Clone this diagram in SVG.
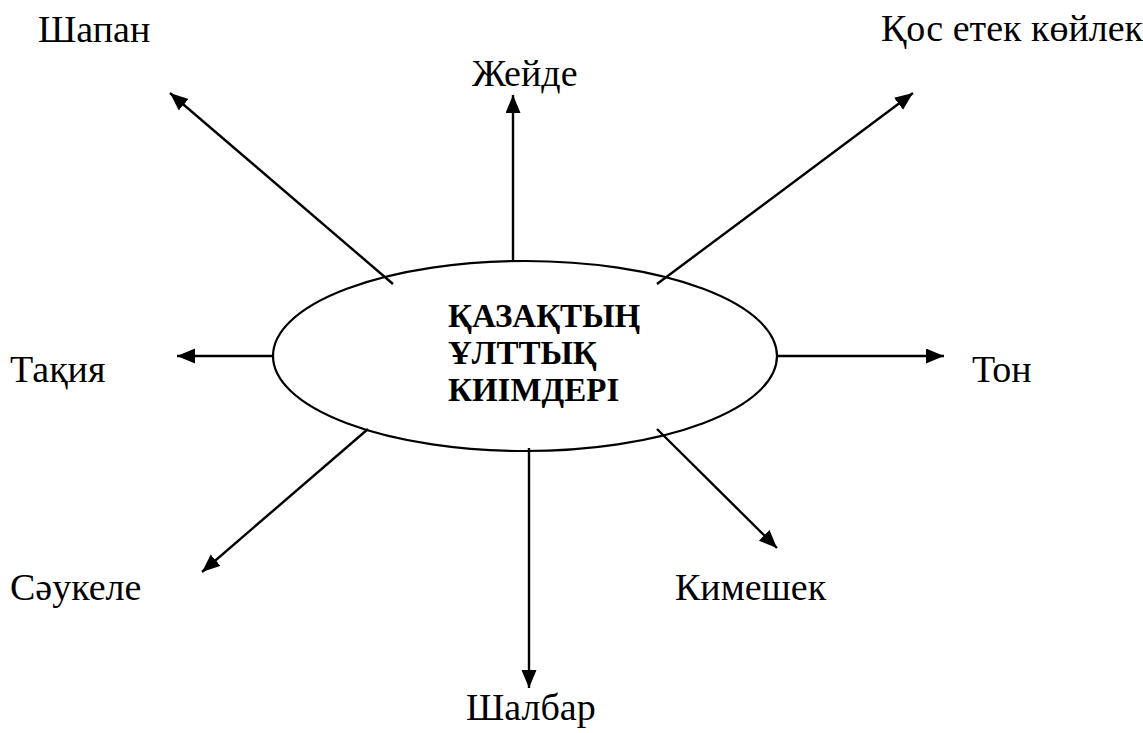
<svg xmlns="http://www.w3.org/2000/svg" width="1143" height="733" viewBox="0 0 1143 733">
<style>
.lbl{font-size:38px;fill:#000}
.ttl{font-size:33px;font-weight:bold;fill:#000}
.ln{stroke:#000;stroke-width:2.4;fill:none}
</style>
<defs>
<marker id="ah" markerUnits="userSpaceOnUse" markerWidth="20" markerHeight="16" refX="18" refY="7.5" orient="auto" viewBox="0 0 20 16">
<path d="M0,0 L18,7.5 L0,15 z" fill="#000"/>
</marker>
</defs>
<rect width="1143" height="733" fill="#fff"/>
<g id="connectors">
<line class="ln" x1="393" y1="284" x2="170" y2="93" marker-end="url(#ah)"/>
<line class="ln" x1="513" y1="261" x2="513" y2="95" marker-end="url(#ah)"/>
<line class="ln" x1="657" y1="284" x2="913" y2="93" marker-end="url(#ah)"/>
<line class="ln" x1="273" y1="356" x2="177" y2="356" marker-end="url(#ah)"/>
<line class="ln" x1="777" y1="356" x2="944" y2="356" marker-end="url(#ah)"/>
<line class="ln" x1="368" y1="429" x2="202" y2="572" marker-end="url(#ah)"/>
<line class="ln" x1="529" y1="448" x2="529" y2="688" marker-end="url(#ah)"/>
<line class="ln" x1="657" y1="429" x2="777" y2="548" marker-end="url(#ah)"/>
</g>
<g font-family="Liberation Serif">
<g id="center">
<ellipse cx="525" cy="356" rx="252" ry="95" fill="none" stroke="#000" stroke-width="2.2"/>
<text class="ttl" font-family="Liberation Serif" x="448" y="327">ҚАЗАҚТЫҢ</text>
<text class="ttl" font-family="Liberation Serif" x="448" y="364">ҰЛТТЫҚ</text>
<text class="ttl" font-family="Liberation Serif" x="448" y="401">КИІМДЕРІ</text>
</g>
<g id="n-shapan"><text class="lbl" font-family="Liberation Serif" x="38" y="42">Шапан</text></g>
<g id="n-zheide"><text class="lbl" font-family="Liberation Serif" x="472" y="86">Жейде</text></g>
<g id="n-qos"><text class="lbl" font-family="Liberation Serif" x="881" y="41">Қос етек көйлек</text></g>
<g id="n-taqiya"><text class="lbl" font-family="Liberation Serif" x="10" y="382">Тақия</text></g>
<g id="n-ton"><text class="lbl" font-family="Liberation Serif" x="972" y="382">Тон</text></g>
<g id="n-saukele"><text class="lbl" font-family="Liberation Serif" x="10" y="600">Сәукеле</text></g>
<g id="n-kimeshek"><text class="lbl" font-family="Liberation Serif" x="675" y="600">Кимешек</text></g>
<g id="n-shalbar"><text class="lbl" font-family="Liberation Serif" x="466" y="720">Шалбар</text></g>
</g>
</svg>
